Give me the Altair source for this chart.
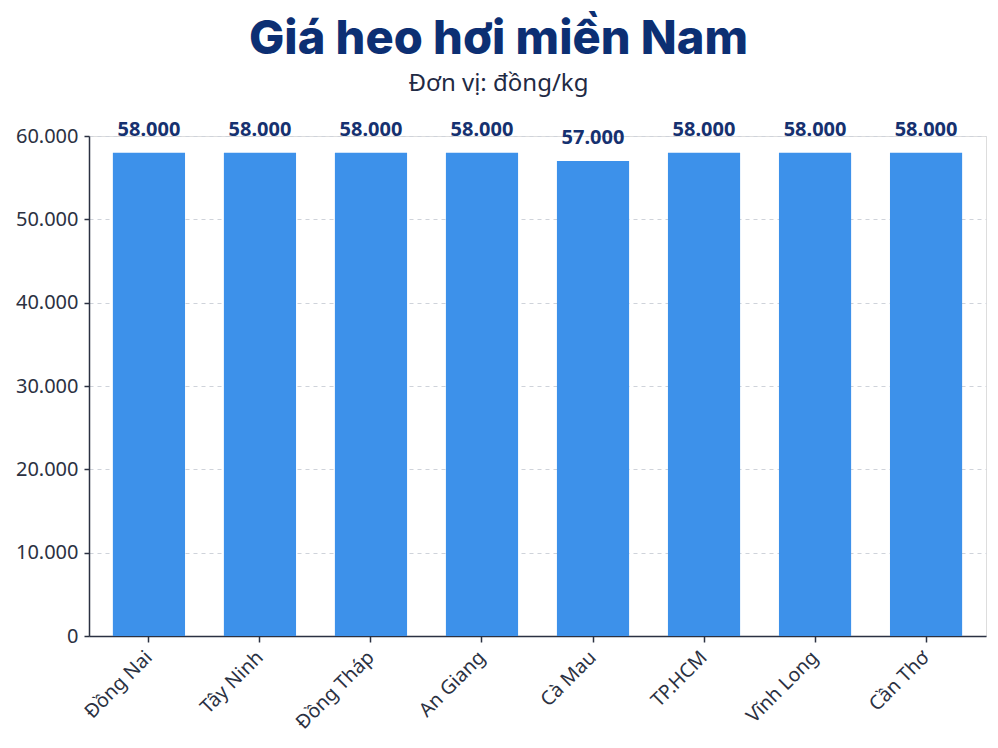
import altair as alt
import pandas as pd

provinces = ["Đồng Nai", "Tây Ninh", "Đồng Tháp", "An Giang", "Cà Mau", "TP.HCM", "Vĩnh Long", "Cần Thơ"]
prices = [58000, 58000, 58000, 58000, 57000, 58000, 58000, 58000]
y_ticks = [0, 10000, 20000, 30000, 40000, 50000, 60000]

df = pd.DataFrame({"province": provinces, "price": prices})

dot_fmt = "replace(format(datum.value, ','), regexp(',', 'g'), '.')"

base = alt.Chart(df).encode(
    x=alt.X("province:N", sort=provinces, title=None,
            scale=alt.Scale(paddingInner=0.35, paddingOuter=0.215),
            axis=alt.Axis(labelAngle=-45, labelAlign="right", labelBaseline="middle",
                          labelFont="Noto Sans", labelFontSize=19.5, labelColor="#2b3142",
                          labelPadding=12, tickSize=6, tickColor="#2b3142", tickWidth=1.5,
                          domainColor="#2b3142", domainWidth=1.5, grid=False)),
)

bars = base.mark_bar(color="#3d91ea").encode(
    y=alt.Y("price:Q", title=None,
            scale=alt.Scale(domain=[0, 60000], nice=False),
            axis=alt.Axis(values=y_ticks, labelExpr=dot_fmt, labelFont="Noto Sans",
                          labelFontSize=20, labelColor="#2b3142", labelPadding=6,
                          tickSize=5, tickColor="#2b3142", tickWidth=1.5,
                          domainColor="#2b3142", domainWidth=1.5,
                          grid=True, gridDash=[4, 4], gridColor="#cfd3da", gridWidth=1)),
)

labels = base.transform_calculate(
    label="replace(format(datum.price, ','), regexp(',', 'g'), '.')"
).mark_text(font="Noto Sans", fontSize=20, fontWeight="bold", color="#163170",
            baseline="alphabetic", dy=-17).encode(
    y=alt.Y("price:Q"),
    text="label:N",
)

chart = (bars + labels).properties(
    width=897, height=500,
    autosize=alt.AutoSizeParams(type="none"),
    padding={"left": 81, "top": 128, "right": 4, "bottom": 104},
    title=alt.TitleParams(
        text="Giá heo hơi miền Nam",
        subtitle="Đơn vị: đồng/kg",
        font="Inter", fontSize=47, fontWeight=800, color="#0c2f73",
        subtitleFont="Noto Sans", subtitleFontSize=24, subtitleColor="#1f2a44",
        subtitlePadding=8, anchor="middle", dx=-39, offset=23,
    ),
).configure_view(stroke=None).configure(background="white")

chart.save("out.html", embed_options={"renderer": "svg", "actions": False})
